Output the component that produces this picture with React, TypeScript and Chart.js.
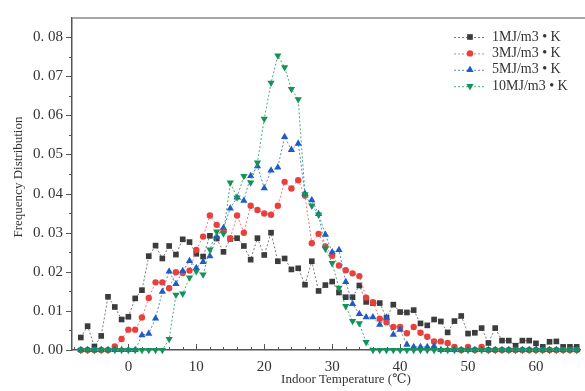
import React, { useEffect, useRef } from "react";
import { Chart, registerables } from "chart.js";

Chart.register(...registerables);

// Indoor temperature (°C) categories
const temperatures = [
  -7, -6, -5, -4, -3, -2, -1, 0, 1, 2, 3, 4, 5, 6, 7, 8, 9, 10,
  11, 12, 13, 14, 15, 16, 17, 18, 19, 20, 21, 22, 23, 24, 25, 26, 27, 28, 29, 30,
  31, 32, 33, 34, 35, 36, 37, 38, 39, 40, 41, 42, 43, 44, 45, 46, 47, 48, 49, 50,
  51, 52, 53, 54, 55, 56, 57, 58, 59, 60, 61, 62, 63, 64, 65, 66,
];

const series1MJ = [
  0.0032, 0.0061, 0.0009, 0.0036, 0.0136, 0.011, 0.0078, 0.0085, 0.0132, 0.0153, 0.024, 0.0267, 0.0234, 0.0266, 0.0244, 0.0283, 0.0276, 0.0246,
  0.0239, 0.0292, 0.0285, 0.0251, 0.0284, 0.0286, 0.0266, 0.0231, 0.0286, 0.0243, 0.030, 0.0227, 0.0234, 0.0206, 0.0209, 0.0167, 0.0227, 0.0151, 0.0166, 0.0175,
  0.0147, 0.0135, 0.0135, 0.0165, 0.0123, 0.012, 0.012, 0.0082, 0.0116, 0.0097, 0.0096, 0.0102, 0.0068, 0.0063, 0.0078, 0.0073, 0.0045, 0.0074, 0.0087, 0.0042,
  0.0044, 0.0056, 0.0018, 0.0056, 0.0024, 0.0024, 0.0011, 0.0024, 0.0024, 0.0017, 0.0008, 0.0021, 0.0022, 0.0008, 0.0008, 0.0008,
];

const series3MJ = [
  0, 0, 0, 0, 0, 0.0009, 0.0028, 0.0052, 0.0052, 0.0083, 0.0133, 0.0173, 0.0173, 0.0158, 0.0199, 0.0197, 0.0203, 0.0256,
  0.029, 0.0344, 0.032, 0.0304, 0.0286, 0.0344, 0.030, 0.0369, 0.0358, 0.0349, 0.0346, 0.0369, 0.043, 0.0413, 0.0434, 0.0395, 0.0273, 0.0297, 0.0265, 0.0241,
  0.0216, 0.0204, 0.0196, 0.0189, 0.0134, 0.0122, 0.008, 0.0071, 0.0059, 0.0059, 0.0043, 0.0059, 0.0044, 0.0034, 0.0022, 0.0022, 0.0018, 0.0008, 0, 0.0008,
  0, 0.0008, 0, 0, 0, 0, 0, 0, 0, 0, 0, 0, 0, 0, 0, 0,
];

const series5MJ = [
  0, 0, 0, 0, 0, 0, 0, 0, 0, 0.0038, 0.0042, 0.0081, 0.0149, 0.0201, 0.0169, 0.0202, 0.0228, 0.021,
  0.0225, 0.024, 0.029, 0.0312, 0.0362, 0.039, 0.0382, 0.0445, 0.047, 0.0414, 0.0459, 0.0467, 0.0545, 0.0512, 0.0528, 0.040, 0.0383, 0.0348, 0.0295, 0.025,
  0.0256, 0.0174, 0.0118, 0.0092, 0.0084, 0.0084, 0.0065, 0.0083, 0.0039, 0.0052, 0.0014, 0.0008, 0.0008, 0.0008, 0.001, 0, 0, 0, 0, 0,
  0, 0, 0, 0, 0, 0, 0, 0, 0, 0, 0, 0, 0, 0, 0, 0,
];

const series10MJ = [
  0, 0, 0, 0, 0, 0, 0, 0, 0, 0, 0, 0, 0, 0.0028, 0.0141, 0.0144, 0.0185, 0.0201,
  0.0193, 0.0257, 0.0303, 0.0298, 0.0428, 0.039, 0.0445, 0.0428, 0.0479, 0.0591, 0.0683, 0.0753, 0.0723, 0.0667, 0.0641, 0.0398, 0.0369, 0.0346, 0.0259, 0.0222,
  0.0159, 0.0112, 0.0074, 0.0068, 0.002, 0, 0, 0, 0, 0, 0, 0, 0, 0, 0, 0, 0, 0, 0, 0,
  0, 0, 0, 0, 0, 0, 0, 0, 0, 0, 0, 0, 0, 0, 0, 0,
];

const seriesLabels = ["1MJ/m3 • K", "3MJ/m3 • K", "5MJ/m3 • K", "10MJ/m3 • K"];
const seriesValues = [series1MJ, series3MJ, series5MJ, series10MJ];
const markerColors = ["#3c3c3c", "#e8403a", "#1d5cc6", "#15925a"];
const lineColors = ["#7a7a7a", "#ee7a76", "#5a86d2", "#4ea884"];
const pointStyles = ["rect", "circle", "triangle", "triangle"];
const pointRotations = [0, 0, 0, 180];
const pointRadii = [4, 3.2, 4.2, 4.2];

const xTitle = "Indoor Temperature (℃)";
const yTitle = "Frequency Distribution";

const SERIF = "'Liberation Serif', 'DejaVu Serif', serif";

function drawMarker(ctx: CanvasRenderingContext2D, i: number, x: number, y: number) {
  ctx.fillStyle = markerColors[i];
  ctx.beginPath();
  const style = pointStyles[i];
  const r = pointRadii[i];
  if (style === "rect") {
    const s = r * Math.SQRT1_2;
    ctx.rect(x - s, y - s, 2 * s, 2 * s);
  } else if (style === "circle") {
    ctx.arc(x, y, r, 0, Math.PI * 2);
  } else {
    const dir = pointRotations[i] === 180 ? -1 : 1;
    const h = r * 0.75;
    ctx.moveTo(x, y - dir * r);
    ctx.lineTo(x - r * 0.866, y + dir * h * 0.67);
    ctx.lineTo(x + r * 0.866, y + dir * h * 0.67);
    ctx.closePath();
  }
  ctx.fill();
}

const decorPlugin = {
  id: "decor",
  beforeDatasetsDraw(chart: any) {
    const { ctx, chartArea, scales } = chart;
    ctx.save();
    ctx.strokeStyle = "#555";
    ctx.lineWidth = 1;
    scales.y.ticks.forEach((t: any) => {
      const y = Math.round(scales.y.getPixelForValue(t.value)) + 0.5;
      const major = Math.abs(t.value * 100 - Math.round(t.value * 100)) < 1e-6;
      const len = major ? 6 : 3;
      ctx.beginPath();
      ctx.moveTo(chartArea.left - len, y);
      ctx.lineTo(chartArea.left, y);
      ctx.stroke();
    });
    scales.x.ticks.forEach((t: any) => {
      const x = Math.round(scales.x.getPixelForValue(t.value)) + 0.5;
      const major = Math.round(t.value) % 10 === 0;
      const len = major ? 6 : 3;
      ctx.beginPath();
      ctx.moveTo(x, chartArea.bottom);
      ctx.lineTo(x, chartArea.bottom - len);
      ctx.stroke();
    });
    // top frame
    ctx.strokeStyle = "#8a8a8a";
    ctx.lineWidth = 1.5;
    ctx.beginPath();
    ctx.moveTo(chartArea.left, chartArea.top);
    ctx.lineTo(chart.width, chartArea.top);
    ctx.stroke();
    // titles
    ctx.fillStyle = "#333";
    ctx.font = `13px ${SERIF}`;
    ctx.textAlign = "center";
    ctx.textBaseline = "middle";
    ctx.fillText(xTitle, 346, 380);
    ctx.save();
    ctx.translate(19, 177);
    ctx.rotate(-Math.PI / 2);
    ctx.fillText(yTitle, 0, 0);
    ctx.restore();
    ctx.restore();
  },
  afterDraw(chart: any) {
    const { ctx } = chart;
    ctx.save();
    ctx.font = `14px ${SERIF}`;
    ctx.textBaseline = "middle";
    ctx.textAlign = "left";
    seriesLabels.forEach((label, i) => {
      const y = 37 + i * 16.4;
      ctx.strokeStyle = lineColors[i];
      ctx.lineWidth = 1;
      ctx.setLineDash([2, 2]);
      ctx.beginPath();
      ctx.moveTo(454, y + 0.5);
      ctx.lineTo(486, y + 0.5);
      ctx.stroke();
      ctx.setLineDash([]);
      drawMarker(ctx, i, 470, y);
      ctx.fillStyle = "#333";
      ctx.fillText(label, 492, y);
    });
    ctx.restore();
  },
};

export default function App() {
  const canvasRef = useRef<HTMLCanvasElement | null>(null);

  useEffect(() => {
    document.body.style.margin = "0";
    const canvas = canvasRef.current;
    if (!canvas) return;
    const datasets = seriesValues.map((vals, i) => ({
      label: seriesLabels[i],
      data: temperatures.map((t, k) => ({ x: t, y: vals[k] })),
      borderColor: lineColors[i],
      backgroundColor: markerColors[i],
      borderWidth: 1,
      borderDash: [2, 2],
      pointStyle: pointStyles[i],
      pointRotation: pointRotations[i],
      pointRadius: pointRadii[i],
      pointBackgroundColor: markerColors[i],
      pointBorderColor: markerColors[i],
      pointBorderWidth: 0,
      tension: 0,
      fill: false,
      clip: false as any,
      order: 3 - i,
    }));

    const chart = new Chart(canvas, {
      type: "line",
      data: { datasets },
      options: {
        responsive: false,
        animation: false,
        layout: { padding: { top: 5, right: 2, left: 0, bottom: 0 } },
        plugins: { legend: { display: false }, tooltip: { enabled: false } },
        scales: {
          x: {
            type: "linear",
            min: -8.3,
            max: 66.6,
            grid: { display: false, drawTicks: false },
            border: { display: true, color: "#555", width: 1.5 },
            ticks: {
              stepSize: 2,
              includeBounds: false,
              autoSkip: false,
              maxRotation: 0,
              padding: 8,
              color: "#333",
              font: { family: SERIF, size: 15 },
              callback: (v: any) => (Math.round(v) % 10 === 0 ? String(Math.round(v)) : ""),
            },
            afterFit: (scale: any) => {
              scale.height = 41;
            },
          },
          y: {
            type: "linear",
            min: 0,
            max: 0.0849,
            grid: { display: false, drawTicks: false },
            border: { display: true, color: "#555", width: 1.5 },
            ticks: {
              stepSize: 0.005,
              includeBounds: false,
              autoSkip: false,
              padding: 9,
              color: "#333",
              font: { family: SERIF, size: 15 },
              callback: (v: any) => {
                const n = Math.round(v * 1000);
                if (n % 10 !== 0) return "";
                return (n / 1000).toFixed(2).replace(".", ". ");
              },
            },
            afterFit: (scale: any) => {
              scale.width = 72;
            },
          },
        },
      },
      plugins: [decorPlugin],
    });
    return () => chart.destroy();
  }, []);

  return (
    <div style={{ width: 585, height: 391, background: "#fff" }}>
      <canvas ref={canvasRef} width={585} height={391} style={{ display: "block" }} />
    </div>
  );
}
